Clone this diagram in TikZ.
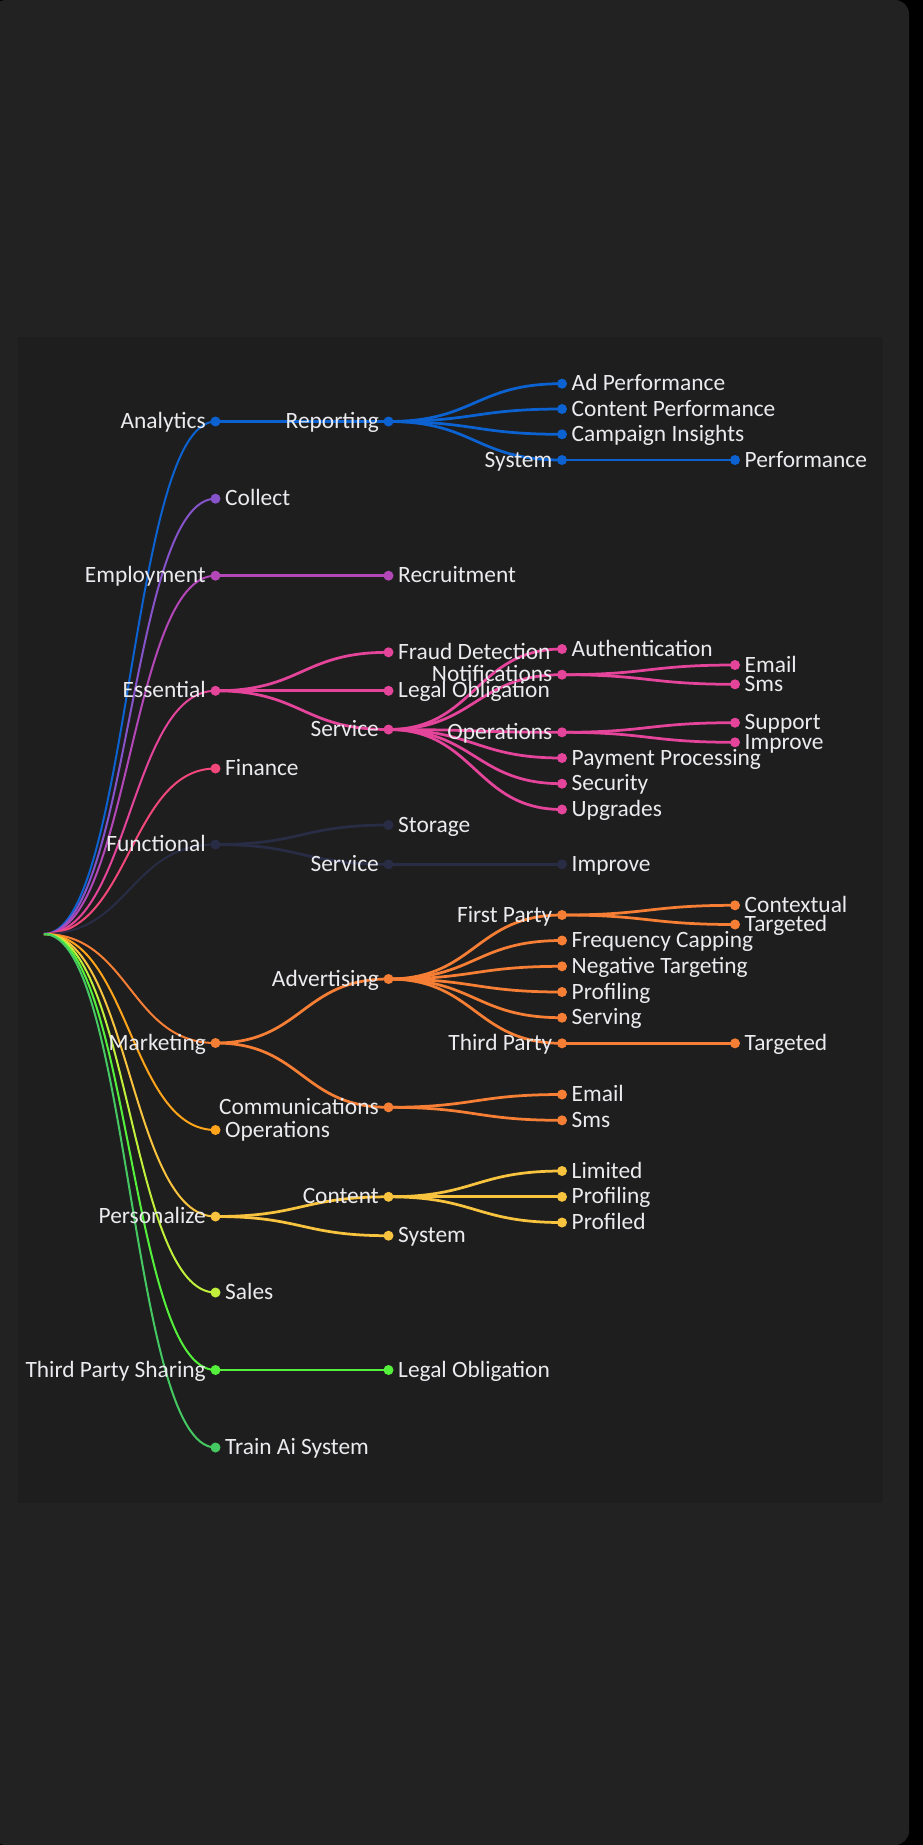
\documentclass[tikz,border=0pt]{standalone}
\usepackage{fontspec}
\setmainfont{Carlito}
\pgfdeclarelayer{bg}
\pgfdeclarelayer{edges}
\pgfsetlayers{bg,edges,main}

\definecolor{pageout}{HTML}{000000}
\definecolor{panel}{HTML}{222222}
\definecolor{inner}{HTML}{1E1E1E}
\definecolor{txt}{HTML}{EBEBEF}
\definecolor{cAna}{HTML}{0B62D0}
\definecolor{cCol}{HTML}{8653CA}
\definecolor{cEmp}{HTML}{B347B8}
\definecolor{cEss}{HTML}{E4459B}
\definecolor{cFin}{HTML}{F2477A}
\definecolor{cFun}{HTML}{282C44}
\definecolor{cMkt}{HTML}{F67F35}
\definecolor{cOps}{HTML}{FFA41B}
\definecolor{cPer}{HTML}{F8C33E}
\definecolor{cSal}{HTML}{C0F03C}
\definecolor{cTps}{HTML}{55F03C}
\definecolor{cTai}{HTML}{45C862}

\tikzset{
  dotn/.style={circle, inner sep=0pt, minimum size=10pt},
  lbl/.style={text=txt, inner sep=0pt, font=\fontsize{23.4}{27}\selectfont},
  lblL/.style={lbl, anchor=base east},
  lblR/.style={lbl, anchor=base west},
  link/.style={line width=2.75pt},
  rootlink/.style={line width=2pt},
}

% dot with its label on the left (inner nodes) or on the right (leaves)
\newcommand\nL[4]{%
  \node[dotn, fill=\cc] (#1) at (#2,#3) {};
  \node[lblL] (#1-t) at ([xshift=-9.5pt,yshift=-7pt]#1.center) {#4};}
\newcommand\nR[4]{%
  \node[dotn, fill=\cc] (#1) at (#2,#3) {};
  \node[lblR] (#1-t) at ([xshift=9.5pt,yshift=-7pt]#1.center) {#4};}
% horizontal S-curve between two dots, one level apart
\newcommand\lk[2]{%
  \begin{pgfonlayer}{edges}
  \draw[link, draw=\cc] (#1.center) .. controls ([xshift=86.5pt]#1.center)
     and ([xshift=-86.5pt]#2.center) .. (#2.center);
  \end{pgfonlayer}}
% curve from the root to a first-level dot
\newcommand\rk[1]{%
  \begin{pgfonlayer}{edges}
  \draw[rootlink, draw=\cc] (root) .. controls ([xshift=85.75pt]root)
     and ([xshift=-85.75pt]#1.center) .. (#1.center);
  \end{pgfonlayer}}

\begin{document}
\begin{tikzpicture}[x=1pt, y=-1pt]
\useasboundingbox (0,0) rectangle (923,1845);
\begin{pgfonlayer}{bg}
  \fill[pageout] (0,0) rectangle (923,1845);
  \fill[panel, rounded corners=14pt] (-8,0) rectangle (909,1845);
  \fill[inner] (18,337) rectangle (883,1503);
\end{pgfonlayer}

\coordinate (root) at (44,934);

% Analytics
\def\cc{cAna}
\nL{ana}{215.5}{421.5}{Analytics}
\nL{rep}{388.5}{421.5}{Reporting}
\nR{adp}{562}{383.7}{Ad Performance}
\nR{cop}{562}{409}{Content Performance}
\nR{cin}{562}{434.3}{Campaign Insights}
\nL{sys}{562}{460}{System}
\nR{perf}{735}{460}{Performance}
\rk{ana}
\lk{ana}{rep}
\lk{rep}{adp}\lk{rep}{cop}\lk{rep}{cin}\lk{rep}{sys}
\lk{sys}{perf}

% Collect
\def\cc{cCol}
\nR{col}{215.5}{498.7}{Collect}
\rk{col}

% Employment
\def\cc{cEmp}
\nL{emp}{215.5}{575.7}{Employment}
\nR{rec}{388.5}{575.7}{Recruitment}
\rk{emp}
\lk{emp}{rec}

% Essential
\def\cc{cEss}
\nL{ess}{215.5}{690.8}{Essential}
\nR{fra}{388.5}{652.3}{Fraud Detection}
\nR{leg}{388.5}{690.8}{Legal Obligation}
\nL{esv}{388.5}{729.5}{Service}
\nR{aut}{562}{649}{Authentication}
\nL{notif}{562}{674.7}{Notifications}
\nR{nem}{735}{665}{Email}
\nR{nsm}{735}{684.3}{Sms}
\nL{ops}{562}{732.3}{Operations}
\nR{sup}{735}{722.7}{Support}
\nR{oimp}{735}{742.3}{Improve}
\nR{pay}{562}{758}{Payment Processing}
\nR{sec}{562}{783.7}{Security}
\nR{upg}{562}{809.5}{Upgrades}
\rk{ess}
\lk{ess}{fra}\lk{ess}{leg}\lk{ess}{esv}
\lk{esv}{aut}\lk{esv}{notif}\lk{esv}{ops}\lk{esv}{pay}\lk{esv}{sec}\lk{esv}{upg}
\lk{notif}{nem}\lk{notif}{nsm}
\lk{ops}{sup}\lk{ops}{oimp}

% Finance
\def\cc{cFin}
\nR{fin}{215.5}{768.5}{Finance}
\rk{fin}

% Functional
\def\cc{cFun}
\nL{fun}{215.5}{844.5}{Functional}
\nR{sto}{388.5}{825}{Storage}
\nL{fsv}{388.5}{864.3}{Service}
\nR{fimp}{562}{864.3}{Improve}
\rk{fun}
\lk{fun}{sto}\lk{fun}{fsv}
\lk{fsv}{fimp}

% Marketing
\def\cc{cMkt}
\nL{mkt}{215.5}{1043}{Marketing}
\nL{adv}{388.5}{979}{Advertising}
\nL{fp}{562}{915}{First Party}
\nR{ctx}{735}{905.3}{Contextual}
\nR{tga}{735}{924.5}{Targeted}
\nR{frq}{562}{940.5}{Frequency Capping}
\nR{neg}{562}{966.3}{Negative Targeting}
\nR{prf}{562}{992}{Profiling}
\nR{srv}{562}{1017.7}{Serving}
\nL{tp}{562}{1043.3}{Third Party}
\nR{tgb}{735}{1043.3}{Targeted}
\nL{com}{388.5}{1107.3}{Communications}
\nR{cem}{562}{1094.5}{Email}
\nR{csm}{562}{1120.3}{Sms}
\rk{mkt}
\lk{mkt}{adv}\lk{mkt}{com}
\lk{adv}{fp}\lk{adv}{frq}\lk{adv}{neg}\lk{adv}{prf}\lk{adv}{srv}\lk{adv}{tp}
\lk{fp}{ctx}\lk{fp}{tga}
\lk{tp}{tgb}
\lk{com}{cem}\lk{com}{csm}

% Operations
\def\cc{cOps}
\nR{opa}{215.5}{1130}{Operations}
\rk{opa}

% Personalize
\def\cc{cPer}
\nL{per}{215.5}{1216.5}{Personalize}
\nL{cnt}{388.5}{1196.8}{Content}
\nR{lim}{562}{1171}{Limited}
\nR{pfl}{562}{1196.8}{Profiling}
\nR{pfd}{562}{1222.5}{Profiled}
\nR{psy}{388.5}{1235.7}{System}
\rk{per}
\lk{per}{cnt}\lk{per}{psy}
\lk{cnt}{lim}\lk{cnt}{pfl}\lk{cnt}{pfd}

% Sales
\def\cc{cSal}
\nR{sal}{215.5}{1292.5}{Sales}
\rk{sal}

% Third Party Sharing
\def\cc{cTps}
\nL{tps}{215.5}{1370}{Third Party Sharing}
\nR{tpl}{388.5}{1370}{Legal Obligation}
\rk{tps}
\lk{tps}{tpl}

% Train Ai System
\def\cc{cTai}
\nR{tai}{215.5}{1447.5}{Train Ai System}
\rk{tai}
\end{tikzpicture}
\end{document}
